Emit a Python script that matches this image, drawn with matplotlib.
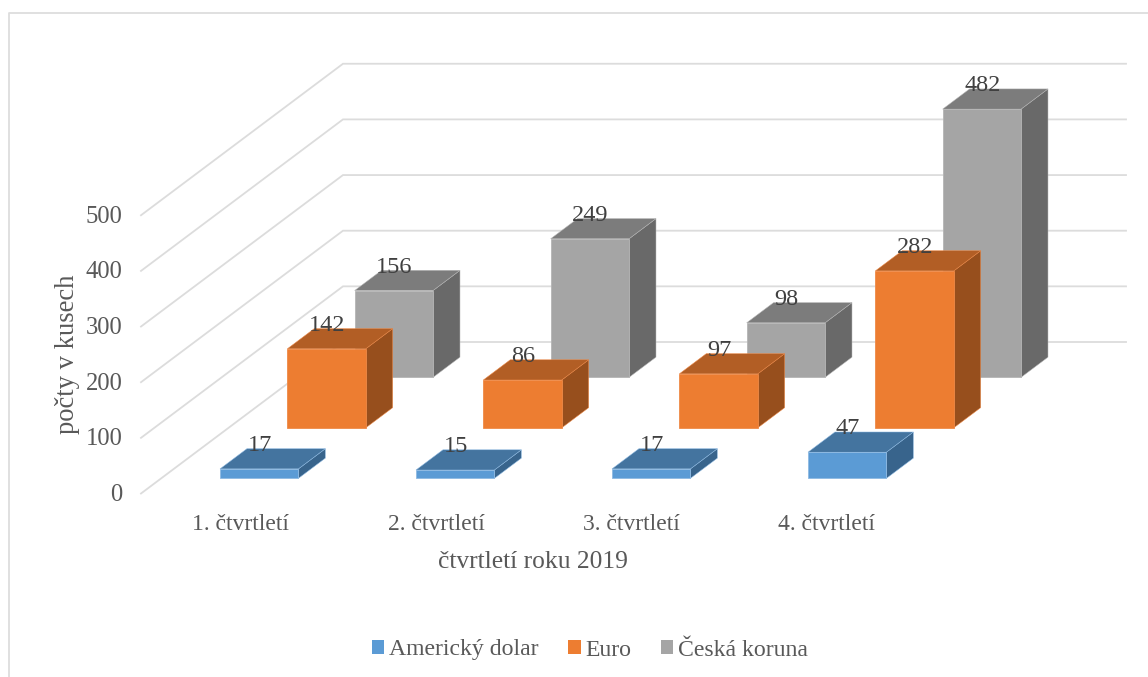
import matplotlib
matplotlib.use("Agg")
import matplotlib.pyplot as plt
from matplotlib.patches import Patch

plt.rcParams['font.family'] = ['Liberation Serif', 'DejaVu Serif']

# ---- data ----
categories = ["1. čtvrtletí", "2. čtvrtletí", "3. čtvrtletí", "4. čtvrtletí"]
series_names = ["Americký dolar", "Euro", "Česká koruna"]
usd = [17, 15, 17, 47]
eur = [142, 86, 97, 282]
czk = [156, 249, 98, 482]
y_ticks = [0, 100, 200, 300, 400, 500]
x_title = "čtvrtletí roku 2019"
y_title = "počty v kusech"

# ---- styles ----
front_cols = ["#5B9BD5", "#ED7D31", "#A5A5A5"]
top_cols = ["#44749F", "#B25E25", "#7C7C7C"]
side_cols = ["#38648C", "#974F1D", "#696969"]
edge_cols = ["#8DB9E2", "#EF8A48", "#B5B5B5"]
GRID = "#DCDCDC"
TICK = "#595959"
LABEL = "#404040"

# oblique projection: category position, depth position, value -> pixel
X0, Y0 = 141.0, 493.5
CAT_W, DX, DY, VAL = 196.0, 67.33, 50.5, 0.5565
BAR_LO, BAR_HI = 0.3, 0.7


def proj(c, d, v):
    return X0 + CAT_W * c + DX * d, Y0 - DY * d - VAL * v


fig = plt.figure(figsize=(11.48, 6.77), dpi=100, facecolor="white")
ax = fig.add_axes([0, 0, 1, 1])
ax.set_xlim(0, 1148)
ax.set_ylim(677, 0)
ax.axis("off")

# chart frame
ax.plot([9, 9, 1148], [677, 13, 13], color="#DDDDDD", lw=1.3, zorder=1)

# gridlines: side wall + back wall
n_cat, n_depth = len(categories), len(series_names)
for t in y_ticks:
    pts = [proj(0, 0, t), proj(0, n_depth, t), proj(n_cat - 0.005, n_depth, t)]
    ax.plot(*zip(*pts), color=GRID, lw=1.3, zorder=1, solid_joinstyle="miter")
    x, y = proj(0, 0, t)
    ax.text(x - 18.5, y + 1.5, str(t), ha="right", va="center", fontsize=17.7, color=TICK)

# bars, from the back series to the front one
all_series = [usd, eur, czk]
for s in reversed(range(n_depth)):
    for c, v in enumerate(all_series[s]):
        cl, cr = c + BAR_LO, c + BAR_HI
        dl, dh = s + BAR_LO, s + BAR_HI
        front = [proj(cl, dl, 0), proj(cr, dl, 0), proj(cr, dl, v), proj(cl, dl, v)]
        top = [proj(cl, dl, v), proj(cr, dl, v), proj(cr, dh, v), proj(cl, dh, v)]
        side = [proj(cr, dl, 0), proj(cr, dh, 0), proj(cr, dh, v), proj(cr, dl, v)]
        z = 3 + (n_depth - s)
        ax.fill(*zip(*side), facecolor=side_cols[s], edgecolor=edge_cols[s], lw=0.35, zorder=z)
        ax.fill(*zip(*top), facecolor=top_cols[s], edgecolor=edge_cols[s], lw=0.35, zorder=z)
        ax.fill(*zip(*front), facecolor=front_cols[s], edgecolor=edge_cols[s], lw=0.6, zorder=z)

# data labels
for s, vals in enumerate(all_series):
    for c, v in enumerate(vals):
        x, y = proj(c + 0.5, s + BAR_LO, v)
        ax.text(x + 0.5, y - 23.5, str(v), ha="center", va="center", fontsize=17.5, color=LABEL, zorder=20)

# category labels and titles
for c, lab in enumerate(categories):
    ax.text(241 + 195 * c, 524, lab, ha="center", va="center", fontsize=17, color=TICK)
ax.text(533, 561.5, x_title, ha="center", va="center", fontsize=18.4, color=TICK)
ax.text(67.5, 354, y_title, ha="center", va="center", rotation=90, fontsize=19.2, color=TICK)

# legend
handles = [Patch(facecolor=col, edgecolor="none", label=n) for col, n in zip(front_cols, series_names)]
ax.legend(handles=handles, loc="center", bbox_to_anchor=(590 / 1148, 1 - 650 / 677), ncol=3,
          frameon=False, fontsize=17.1, labelcolor=TICK, handlelength=0.52, handleheight=0.52,
          handletextpad=0.2, columnspacing=1.25, borderpad=0, borderaxespad=0)

fig.savefig("out.png", dpi=100)
